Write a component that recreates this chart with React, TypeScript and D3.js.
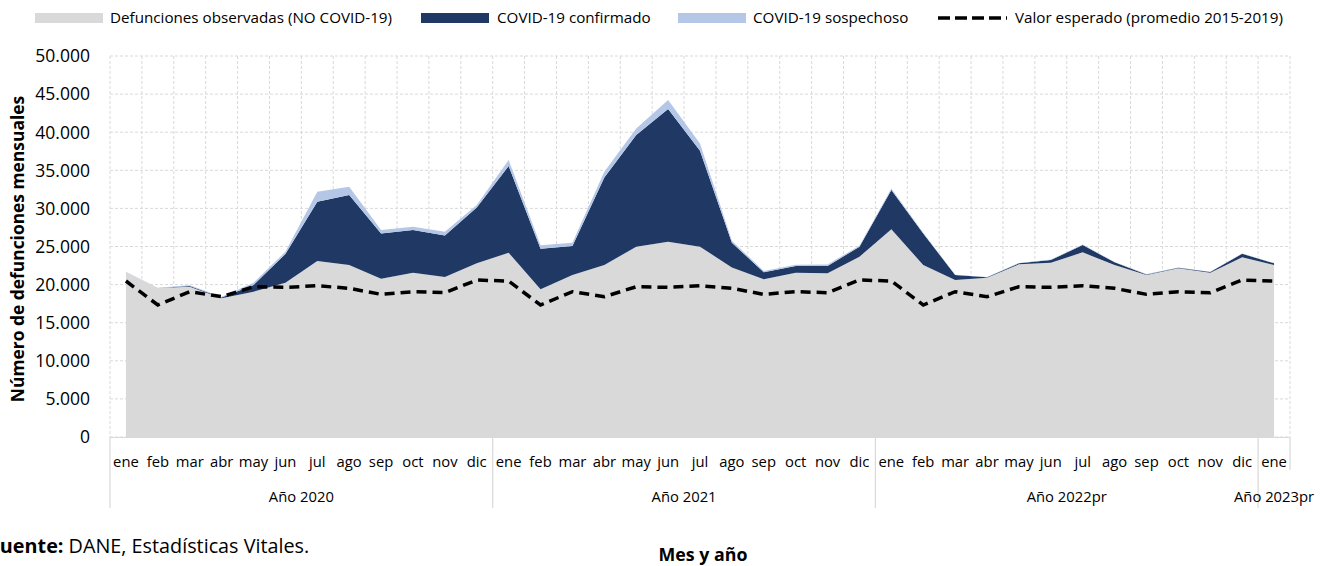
import React from "react";
import * as d3 from "d3";

const months = ["ene","feb","mar","abr","may","jun","jul","ago","sep","oct","nov","dic",
  "ene","feb","mar","abr","may","jun","jul","ago","sep","oct","nov","dic",
  "ene","feb","mar","abr","may","jun","jul","ago","sep","oct","nov","dic","ene"];

const years = [
  { label: "Año 2020", start: 0, end: 12 },
  { label: "Año 2021", start: 12, end: 24 },
  { label: "Año 2022pr", start: 24, end: 36 },
  { label: "Año 2023pr", start: 36, end: 37 },
];

const noCovid = [21650,19550,19720,18200,19070,20240,23090,22570,20770,21560,20990,22790,
  24180,19380,21250,22570,24970,25630,24970,22260,20690,21560,21480,23660,
  27250,22570,20600,20900,22660,22870,24230,22570,21250,22130,21560,23580,22570];

const confirmed = [0,0,80,100,870,3770,7780,9180,5950,5600,5470,7340,
  11380,5330,3810,11500,14650,17400,12590,3240,920,880,960,1310,
  5160,4150,650,50,130,350,960,350,90,80,90,470,220];

const suspected = [50,50,100,100,300,300,1310,1090,440,440,480,310,
  780,440,430,740,880,1180,970,260,170,170,210,130,
  190,80,50,50,60,60,60,50,40,40,40,40,40];

const expected = [20470,17320,19070,18410,19720,19640,19850,19510,18720,19070,18940,20600,
  20470,17320,19070,18410,19720,19640,19850,19510,18720,19070,18940,20600,
  20470,17320,19070,18410,19720,19640,19850,19510,18720,19070,18940,20600,20470];

const yTicks = [0,5000,10000,15000,20000,25000,30000,35000,40000,45000,50000];

const seriesNames = ["Defunciones observadas (NO COVID-19)", "COVID-19 confirmado", "COVID-19 sospechoso"];
const colors = ["#d9d9d9", "#203864", "#b4c7e7"];
const expectedName = "Valor esperado (promedio 2015-2019)";

const FONT = "'Open Sans', 'Noto Sans', sans-serif";

export default function App() {
  const L = 110, R = 1290, T = 56, B = 437;
  const idx = months.map((_, i) => i);
  const x = d3.scaleBand<number>().domain(idx).range([L, R]).padding(0);
  const bw = x.bandwidth();
  const cx = (i: number) => (x(i) as number) + bw / 2;
  const y = d3.scaleLinear().domain([0, 50000]).range([B, T]);

  const table = idx.map(i => ({ i, a: noCovid[i], b: confirmed[i], c: suspected[i] }));
  const stack = d3.stack<any>().keys(["a", "b", "c"]);
  const layers = stack(table);
  const area = d3.area<any>().x((d: any) => cx(d.data.i)).y0((d: any) => y(d[0])).y1((d: any) => y(d[1]));
  const line = d3.line<number>().x((_, i) => cx(i)).y(d => y(d));

  const fmt = (v: number) => d3.format(",")(v).replace(/,/g, ".");

  const legend = [
    { x: 35, w: 68, tx: 110, label: seriesNames[0], color: colors[0] },
    { x: 421, w: 68, tx: 497, label: seriesNames[1], color: colors[1] },
    { x: 678, w: 68, tx: 753, label: seriesNames[2], color: colors[2] },
  ];

  return (
    <svg width={1327} height={566} style={{ position: "absolute", left: 0, top: 0, fontFamily: FONT }}>
      <rect width={1327} height={566} fill="#fff" />
      {/* grid */}
      {yTicks.map(t => (
        <line key={"h" + t} x1={L} x2={R} y1={y(t)} y2={y(t)} stroke="#d9d9d9" strokeDasharray="3,2" strokeWidth={1} />
      ))}
      {d3.range(0, 38).map(k => {
        const xx = k < 37 ? (x(k) as number) : R;
        return <line key={"v" + k} x1={xx} x2={xx} y1={T} y2={B} stroke="#d9d9d9" strokeDasharray="3,2" strokeWidth={1} />;
      })}
      {/* areas */}
      {layers.map((ly, k) => (
        <path key={k} d={area(ly as any) || ""} fill={colors[k]} />
      ))}
      {/* expected */}
      <path d={line(expected) || ""} fill="none" stroke="#000" strokeWidth={3.5} strokeDasharray="10,6" />
      {/* y ticks */}
      {yTicks.map(t => (
        <text key={"yt" + t} x={90} y={y(t)} dy="0.36em" textAnchor="end" fontSize={17.5} fill="#000">{fmt(t)}</text>
      ))}
      {/* x axis */}
      <line x1={L} x2={R} y1={B + 0.5} y2={B + 0.5} stroke="#d9d9d9" strokeWidth={1} />
      {years.map((yr, k) => {
        const xs = x(yr.start) as number;
        return <line key={"ys" + k} x1={xs} x2={xs} y1={B} y2={508} stroke="#d9d9d9" strokeWidth={1.2} />;
      })}
      <line x1={R} x2={R} y1={B} y2={470} stroke="#d9d9d9" strokeWidth={1.2} />
      {months.map((m, i) => (
        <text key={"m" + i} x={cx(i)} y={467} textAnchor="middle" fontSize={14.8} fill="#000">{m}</text>
      ))}
      {years.map((yr, k) => {
        const xs = x(yr.start) as number;
        const xe = yr.end < 37 ? (x(yr.end) as number) : R;
        return <text key={"yl" + k} x={(xs + xe) / 2} y={502} textAnchor="middle" fontSize={14.8} fill="#000">{yr.label}</text>;
      })}
      {/* y title */}
      <text transform={`translate(24,249) rotate(-90)`} textAnchor="middle" fontSize={17.4} fontWeight="bold" fill="#000">Número de defunciones mensuales</text>
      {/* legend */}
      {legend.map((lg, k) => (
        <g key={"lg" + k}>
          <rect x={lg.x} y={13} width={lg.w} height={10} fill={lg.color} />
          <text x={lg.tx} y={18} dy="0.36em" fontSize={15.2} fill="#000">{lg.label}</text>
        </g>
      ))}
      <line x1={938} x2={1007} y1={18} y2={18} stroke="#000" strokeWidth={3.5} strokeDasharray="12,5" />
      <text x={1015} y={18} dy="0.36em" fontSize={15.2} fill="#000">{expectedName}</text>
      {/* footer */}
      <text x={-11} y={553} fontSize={19.8} fill="#000"><tspan fontWeight="bold">Fuente:</tspan> DANE, Estadísticas Vitales.</text>
      <text x={703} y={561} textAnchor="middle" fontSize={17.8} fontWeight="bold" fill="#000">Mes y año</text>
    </svg>
  );
}
